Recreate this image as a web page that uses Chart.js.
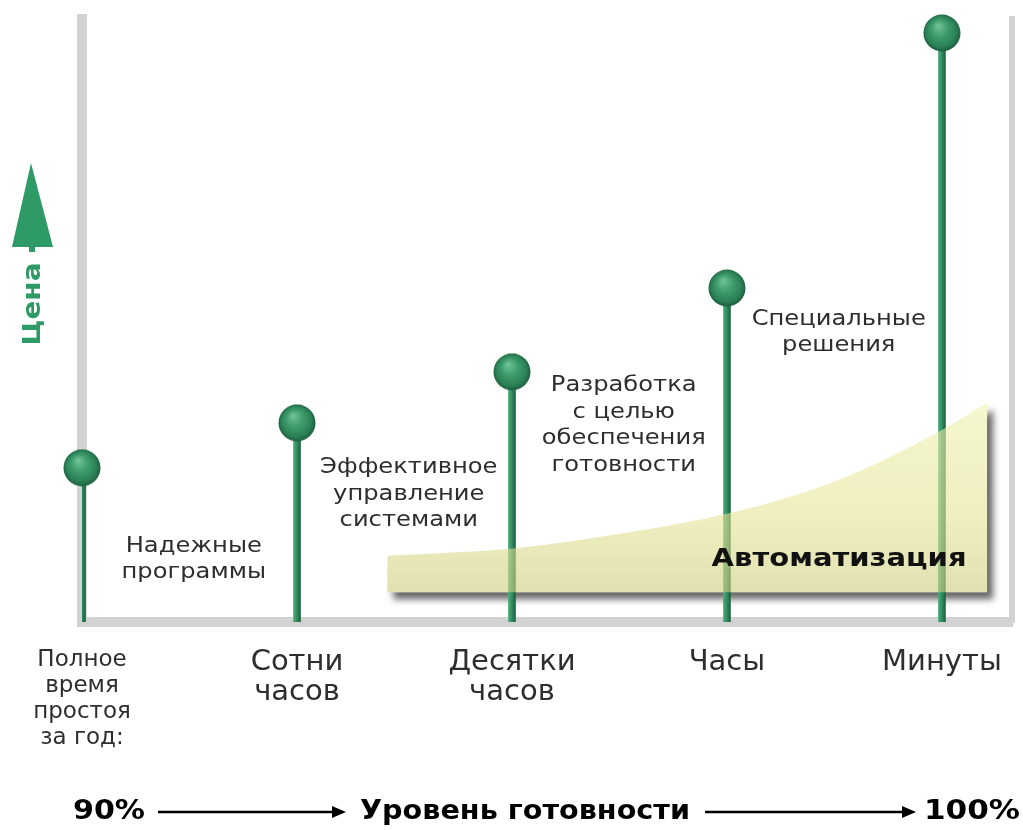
<!DOCTYPE html>
<html>
<head>
<meta charset="utf-8">
<script src="https://cdn.jsdelivr.net/npm/chart.js@4.4.0/dist/chart.umd.min.js"></script>
<style>
  html, body { margin: 0; padding: 0; background: #fff; }
</style>
</head>
<body>
<canvas id="availChart" width="1023" height="830"></canvas>
<script>
// availability levels (x axis) and relative cost of each level
const levels = [['Полное', 'время', 'простоя', 'за год:'], ['Сотни', 'часов'], ['Десятки', 'часов'], ['Часы'], ['Минуты']];
const cost = [25.4, 32.8, 41.2, 55.0, 97.0];
const approaches = [['Надежные', 'программы'], ['Эффективное', 'управление', 'системами'],
  ['Разработка', 'с целью', 'обеспечения', 'готовности'], ['Специальные', 'решения']];

// automation share grows towards the high-availability end
const automationX = [1.42, 2.03, 2.53, 3.02, 3.52, 4.0, 4.21];
const automationY = [10.9, 12.2, 14.7, 18.0, 23.4, 31.6, 36.1];
const automationFloor = 4.9;
const automationLabel = 'Автоматизация';

const costTitle = 'Цена';
const axisTitle = ['90%', 'Уровень готовности', '100%'];

const GREEN = '#2e9a66';
const FRAME = '#d2d2d2';
const TEXT = '#2e2e2e';

function makeBall(r) {
    const c = document.createElement('canvas');
    c.width = c.height = r * 2;
    const g = c.getContext('2d');
    const grad = g.createRadialGradient(r * 0.8, r * 0.6, 1, r, r, r);
    grad.addColorStop(0, '#6fc095');
    grad.addColorStop(0.4, '#3f9e6d');
    grad.addColorStop(0.8, '#2a8055');
    grad.addColorStop(1, '#1b5a3b');
    g.fillStyle = grad;
    g.beginPath();
    g.arc(r, r, r - 0.5, 0, Math.PI * 2);
    g.fill();
    return c;
}
const ball = makeBall(19);

function stemColor(ctx) {
    const xs = ctx.chart.scales.x;
    if (ctx.type !== 'data' || !xs || !ctx.parsed) return '#2f8d5e';
    const px = xs.getPixelForValue(ctx.parsed.x);
    if (!isFinite(px)) return '#2f8d5e';
    const g = ctx.chart.ctx.createLinearGradient(px - 3.5, 0, px + 3.5, 0);
    g.addColorStop(0, '#4daa7b');
    g.addColorStop(0.5, '#2f8d5e');
    g.addColorStop(1, '#1b5f3e');
    return g;
}

function automationFill(ctx) {
    const ys = ctx.chart.scales.y;
    const flat = 'rgba(225,225,150,0.6)';
    if (!ys) return flat;
    const top = ys.getPixelForValue(automationY[automationY.length - 1]);
    const bot = ys.getPixelForValue(automationFloor);
    if (!isFinite(top) || !isFinite(bot) || top === bot) return flat;
    const g = ctx.chart.ctx.createLinearGradient(0, top, 0, bot);
    g.addColorStop(0, 'rgba(240,240,175,0.6)');
    g.addColorStop(0.6, 'rgba(228,228,150,0.6)');
    g.addColorStop(1, 'rgba(205,205,130,0.62)');
    return g;
}

function fitText(ctx, text, cx, cy, w, font) {
    ctx.font = font;
    const m = ctx.measureText(text).width;
    ctx.save();
    ctx.translate(cx, cy);
    ctx.scale(w / m, 1);
    ctx.fillText(text, 0, 0);
    ctx.restore();
}

function wideText(ctx, text, cx, cy, k) {
    ctx.save();
    ctx.translate(cx, cy);
    ctx.scale(k, 1);
    ctx.fillText(text, 0, 0);
    ctx.restore();
}

function arrow(ctx, x1, x2, y) {
    ctx.beginPath();
    ctx.moveTo(x1, y);
    ctx.lineTo(x2 - 10, y);
    ctx.lineWidth = 2.5;
    ctx.stroke();
    ctx.beginPath();
    ctx.moveTo(x2, y);
    ctx.lineTo(x2 - 14, y - 6);
    ctx.lineTo(x2 - 14, y + 6);
    ctx.closePath();
    ctx.fill();
}

const decor = {
    id: 'decor',
    beforeDatasetsDraw(chart) {
        // drop shadow of the automation area, only outside the shape
        const meta = chart.getDatasetMeta(2);
        const line = meta.dataset;
        const pts = meta.data;
        if (!line || !pts.length) return;
        line.updateControlPoints(chart.chartArea, 'x');
        const floor = chart.scales.y.getPixelForValue(automationFloor);
        const shape = new Path2D();
        line.path(shape);
        shape.lineTo(pts[pts.length - 1].x, floor);
        shape.lineTo(pts[0].x, floor);
        shape.closePath();
        const ctx = chart.ctx;
        ctx.save();
        const outside = new Path2D();
        outside.rect(0, 0, chart.width, chart.height);
        outside.addPath(shape);
        ctx.clip(outside, 'evenodd');
        ctx.shadowColor = 'rgba(0,0,0,0.6)';
        ctx.shadowBlur = 7;
        ctx.shadowOffsetX = 3006;
        ctx.shadowOffsetY = 7;
        ctx.translate(-3000, 0);
        ctx.fillStyle = '#000';
        ctx.fill(shape);
        ctx.restore();
    },
    afterDatasetsDraw(chart) {
        const ctx = chart.ctx;
        const xs = chart.scales.x, ys = chart.scales.y;
        ctx.save();

        // approach captions between the stems
        const capY = [12.5, 25.4, 38.9, 49.9];
        ctx.fillStyle = TEXT;
        ctx.textAlign = 'center';
        ctx.textBaseline = 'middle';
        ctx.font = '22px "DejaVu Sans"';
        approaches.forEach((lines, i) => {
            const cx = xs.getPixelForValue(i + 0.52);
            const y0 = ys.getPixelForValue(capY[i]);
            lines.forEach((t, j) => wideText(ctx, t, cx, y0 + j * 26.5, 1.1));
        });

        // automation label
        const pts = chart.getDatasetMeta(2).data;
        const last = pts[pts.length - 1];
        ctx.fillStyle = '#111';
        fitText(ctx, automationLabel, last.x - 148, ys.getPixelForValue(automationFloor) - 33, 255, 'bold 25px "DejaVu Sans"');

        // cost arrow
        ctx.fillStyle = GREEN;
        ctx.beginPath();
        ctx.moveTo(31, 163);
        ctx.lineTo(53, 247);
        ctx.lineTo(12, 247);
        ctx.closePath();
        ctx.fill();
        ctx.fillRect(29, 246, 6, 6);
        ctx.save();
        ctx.translate(33, 304);
        ctx.rotate(-Math.PI / 2);
        fitText(ctx, costTitle, 0, 0, 83, 'bold 25px "DejaVu Sans"');
        ctx.restore();

        // availability axis title
        const ty = 812;
        ctx.fillStyle = '#000';
        ctx.strokeStyle = '#000';
        fitText(ctx, axisTitle[0], 109, ty, 72, 'bold 27px "DejaVu Sans"');
        fitText(ctx, axisTitle[1], 525, ty, 330, 'bold 27px "DejaVu Sans"');
        fitText(ctx, axisTitle[2], 972, ty, 96, 'bold 27px "DejaVu Sans"');
        arrow(ctx, 158, 346, ty);
        arrow(ctx, 705, 916, ty);
        ctx.restore();
    }
};

new Chart(document.getElementById('availChart'), {
    type: 'bar',
    data: {
        datasets: [{
            type: 'bar',
            data: cost.map((v, i) => ({ x: i, y: v })),
            backgroundColor: stemColor,
            barThickness: 7,
            base: -0.8,
            order: 2
        }, {
            type: 'line',
            data: cost.map((v, i) => ({ x: i, y: v })),
            showLine: false,
            pointStyle: ball,
            pointRadius: 19,
            clip: false,
            order: 1
        }, {
            type: 'line',
            data: automationX.map((x, i) => ({ x: x, y: automationY[i] })),
            fill: { value: automationFloor },
            backgroundColor: automationFill,
            borderWidth: 0,
            pointRadius: 0,
            cubicInterpolationMode: 'monotone',
            order: 0
        }]
    },
    options: {
        responsive: false,
        animation: false,
        layout: { autoPadding: false, padding: { left: 82, right: 11, top: 19, bottom: 58 } },
        plugins: { legend: { display: false }, tooltip: { enabled: false } },
        scales: {
            x: {
                type: 'linear',
                offset: false,
                min: 0,
                max: 4.326,
                grid: { display: false, drawTicks: false },
                border: { color: FRAME, width: 10 },
                afterFit: (s) => { s.height = 150; s.paddingLeft = 0; s.paddingRight = 0; },
                ticks: {
                    stepSize: 1,
                    includeBounds: false,
                    autoSkip: false,
                    maxRotation: 0,
                    padding: 25,
                    color: TEXT,
                    font: (c) => c.index === 0
                        ? { family: 'DejaVu Sans', size: 23, lineHeight: 1.13 }
                        : { family: 'DejaVu Sans', size: 29, lineHeight: 1.04 },
                    callback: (v) => levels[v] || ''
                }
            },
            y: {
                min: 0,
                max: 99.3,
                grid: { display: false, drawTicks: false },
                ticks: { display: false },
                border: { color: FRAME, width: 10 },
                afterFit: (s) => { s.width = 0; }
            },
            y2: {
                position: 'right',
                min: 0,
                max: 99.3,
                grid: { display: false, drawTicks: false },
                ticks: { display: false },
                border: { color: FRAME, width: 6 },
                afterFit: (s) => { s.width = 0; }
            }
        }
    },
    plugins: [decor]
});
</script>
</body>
</html>
